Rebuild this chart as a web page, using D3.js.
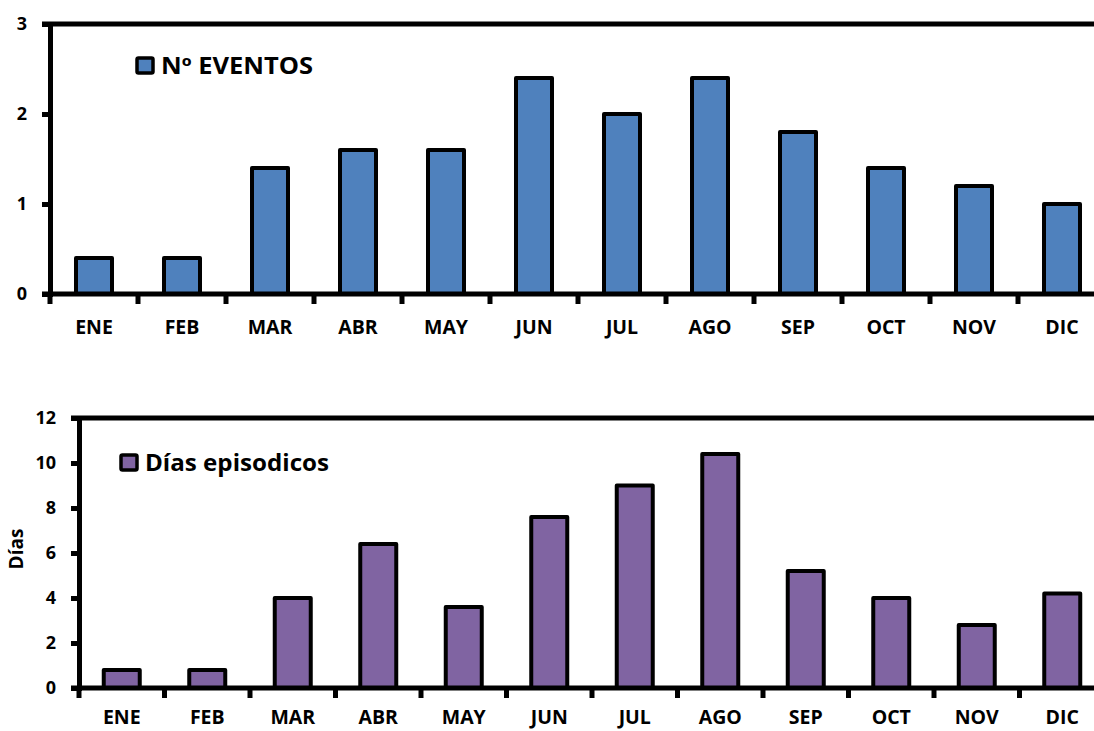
<!DOCTYPE html>
<html>
<head>
    <script src="https://d3js.org/d3.v7.min.js"></script>
    <style>
        body { margin: 0; background: #fff; }
        text { font-family: "Open Sans", Lato, sans-serif; font-weight: bold; fill: #000; }
    </style>
</head>
<body>
    <svg width="1094" height="731"></svg>

    <script>
        const svg = d3.select("svg");

        // data
        const months = ["ENE", "FEB", "MAR", "ABR", "MAY", "JUN", "JUL", "AGO", "SEP", "OCT", "NOV", "DIC"];
        const eventos = [0.4, 0.4, 1.4, 1.6, 1.6, 2.4, 2.0, 2.4, 1.8, 1.4, 1.2, 1.0];
        const dias = [0.8, 0.8, 4.0, 6.4, 3.6, 7.6, 9.0, 10.4, 5.2, 4.0, 2.8, 4.2];
        const eventosTicks = [0, 1, 2, 3];
        const diasTicks = [0, 2, 4, 6, 8, 10, 12];

        function panel(opts) {
            const g = svg.append("g");
            const x = d3.scaleBand().domain(months).range([opts.left, opts.left + 12 * opts.step]).paddingInner(0).paddingOuter(0);
            const y = d3.scaleLinear().domain([0, opts.max]).range([opts.bottom, opts.top]);
            const bw = 36;

            // bars
            g.selectAll("rect.bar")
                .data(opts.values)
                .enter().append("rect")
                .attr("class", "bar")
                .attr("x", (d, i) => x(months[i]) + x.bandwidth() / 2 - bw / 2)
                .attr("y", d => y(d))
                .attr("width", bw)
                .attr("height", d => y(0) - y(d))
                .attr("fill", opts.color)
                .attr("stroke", "#000")
                .attr("stroke-width", 4)
                .attr("stroke-linejoin", "round");

            // top border
            g.append("line")
                .attr("x1", opts.left - 8).attr("x2", 1094)
                .attr("y1", y(opts.max)).attr("y2", y(opts.max))
                .attr("stroke", "#000").attr("stroke-width", 5);

            // y axis
            const yAxis = g.append("g")
                .attr("transform", `translate(${opts.left},0)`)
                .call(d3.axisLeft(y).tickValues(opts.ticks).tickFormat(d3.format("d")).tickSize(8).tickPadding(15));
            yAxis.select(".domain").attr("stroke-width", 5);
            yAxis.selectAll(".tick line").attr("stroke-width", 5);
            yAxis.selectAll(".tick text").attr("font-size", 18);

            // x axis
            const xAxis = g.append("g")
                .attr("transform", `translate(0,${opts.bottom})`)
                .call(d3.axisBottom(x).tickSize(0));
            xAxis.select(".domain").remove();
            xAxis.selectAll(".tick text")
                .attr("font-size", 19.5)
                .attr("dy", null)
                .attr("y", opts.labelBase);
            xAxis.append("line")
                .attr("x1", opts.left - 8).attr("x2", 1094)
                .attr("stroke", "#000").attr("stroke-width", 5);
            xAxis.selectAll(".sep")
                .data(d3.range(13))
                .enter().append("line")
                .attr("class", "sep")
                .attr("x1", i => opts.left + i * opts.step)
                .attr("x2", i => opts.left + i * opts.step)
                .attr("y1", 0).attr("y2", 10)
                .attr("stroke", "#000").attr("stroke-width", 5);

            // legend
            g.append("rect")
                .attr("x", opts.legX).attr("y", opts.legY)
                .attr("width", 16).attr("height", 15)
                .attr("fill", opts.color)
                .attr("stroke", "#000").attr("stroke-width", 3.5)
                .attr("rx", 1.5);
            g.append("text")
                .attr("x", opts.legX + 24).attr("y", opts.legY + 16)
                .attr("font-size", opts.legSize)
                .attr("textLength", opts.legWidth)
                .attr("lengthAdjust", "spacingAndGlyphs")
                .text(opts.label);
            return g;
        }

        panel({ values: eventos, ticks: eventosTicks, max: 3, left: 50, step: 88, top: 24, bottom: 294,
            color: "#4F81BD", legX: 137, legY: 58, legSize: 23, legWidth: 152, label: "Nº EVENTOS", labelBase: 40 });

        panel({ values: dias, ticks: diasTicks, max: 12, left: 79, step: 85.5, top: 418, bottom: 688,
            color: "#8064A2", legX: 121, legY: 455, legSize: 24, legWidth: 184, label: "Días episodicos", labelBase: 36 });

        // y axis title
        svg.append("text")
            .attr("transform", "translate(23,549) rotate(-90)")
            .attr("text-anchor", "middle")
            .attr("font-size", 19)
            .text("Días");
    </script>
</body>
</html>
